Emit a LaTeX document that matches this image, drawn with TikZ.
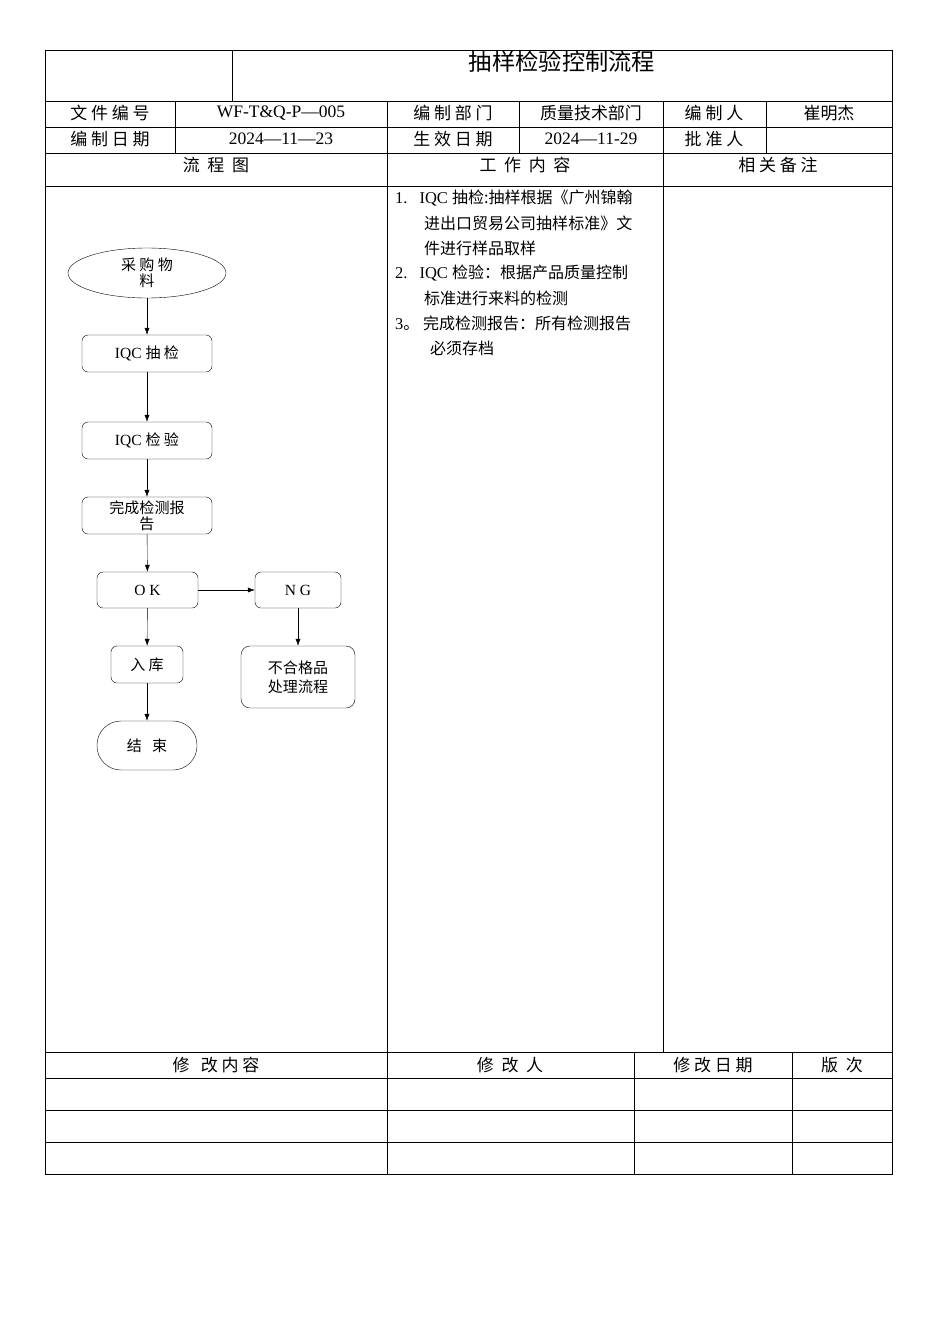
\documentclass[tikz,border=0pt]{standalone}
\usepackage{fontspec}
\setmainfont{Liberation Serif}
\newfontfamily\cjk{Noto Sans CJK SC}[Scale=0.97]
\newcommand{\C}[1]{{\cjk #1}}
\usetikzlibrary{arrows.meta,shapes.geometric}
\begin{document}
\begin{tikzpicture}[x=1pt,y=-1pt,
 every node/.style={font=\fontsize{17.5}{19}\selectfont},
 fbox/.style={draw,rounded corners=6pt,inner sep=0pt,align=center,font=\fontsize{15.5}{16}\selectfont},
 arr/.style={-{Latex[length=7pt,width=5pt]}},
 tl/.style={anchor=west,inner sep=0pt,font=\fontsize{16.5}{17}\selectfont}]
\useasboundingbox (0,0) rectangle (950,1344);
\draw (45,50) rectangle (892,1174);
\foreach \y in {101,127,153,186,1052,1078,1110,1142} \draw (45,\y)--(892,\y);
\draw (232,50)--(232,101);
\foreach \x in {175,387,519,663,766} \draw (\x,101)--(\x,153);
\draw (387,153)--(387,1174);
\draw (663,153)--(663,1052);
\draw (634,1052)--(634,1174);
\draw (792,1052)--(792,1174);
\node[font=\cjk\fontsize{24}{26}\selectfont] at (562,62) {抽样检验控制流程};
\node at (110,113) {\C{文 件 编 号}};
\node at (281,113) {WF-T\&Q-P—005};
\node at (453,113) {\C{编 制 部 门}};
\node at (591,113) {\C{质量技术部门}};
\node at (714,113) {\C{编 制 人}};
\node at (829,113) {\C{崔明杰}};
\node at (110,139) {\C{编 制 日 期}};
\node at (281,139) {2024—11—23};
\node at (453,139) {\C{生 效 日 期}};
\node at (591,139) {2024—11-29};
\node at (714,139) {\C{批 准 人}};
\node at (216,165) {\C{流\ \ 程\ \ 图}};
\node at (525,165) {\C{工\ \ 作\ \ 内\ \ 容}};
\node at (778,165) {\C{相 关 备 注}};
\node at (216,1065) {\C{修\ \ \ 改 内 容}};
\node at (510,1065) {\C{修\ \ 改\ \ 人}};
\node at (713,1065) {\C{修 改 日 期}};
\node at (842,1065) {\C{版\ \ 次}};
% flowchart
\node[draw,ellipse,minimum width=158pt,minimum height=50pt,inner sep=0pt,align=center,font=\cjk\fontsize{15.5}{16}\selectfont] (a) at (147,273) {采 购 物\\料};
\node[fbox,minimum width=130pt,minimum height=37pt] (b) at (147,353.5) {IQC \C{抽 检}};
\node[fbox,minimum width=130pt,minimum height=37pt] (c) at (147,440.5) {IQC \C{检 验}};
\node[fbox,minimum width=130pt,minimum height=37pt,font=\cjk\fontsize{15.5}{16}\selectfont] (d) at (147,515.5) {完成检测报\\告};
\node[fbox,minimum width=101pt,minimum height=36pt] (e) at (147.5,590) {O K};
\node[fbox,minimum width=86pt,minimum height=36pt] (f) at (298,590) {N G};
\node[fbox,minimum width=72pt,minimum height=37pt] (g) at (147,664.5) {\C{入 库}};
\node[fbox,minimum width=114pt,minimum height=62pt,rounded corners=9pt,font=\cjk\fontsize{15.5}{19}\selectfont] (h) at (298,677) {不合格品\\处理流程};
\node[fbox,minimum width=100pt,minimum height=49pt,rounded corners=24pt] (i) at (147,745.5) {\C{结 \ \ 束}};
\draw[arr] (a)--(b);
\draw[arr] (b)--(c);
\draw[arr] (c)--(d);
\draw[arr] (d)--(e);
\draw[arr] (e)--(f);
\draw[arr] (e)--(g);
\draw[arr] (f)--(h);
\draw[arr] (g)--(i);
% work content
\node[tl] (t1) at (395,198) {1.\hspace{12pt}IQC \C{抽检:抽样根据《广州锦翰}};
\node[tl] (t2) at (424,223) {\C{进出口贸易公司抽样标准》文}};
\node[tl] (t3) at (424,248) {\C{件进行样品取样}};
\node[tl] (t4) at (395,273) {2.\hspace{12pt}IQC \C{检验：根据产品质量控制}};
\node[tl] (t5) at (424,298) {\C{标准进行来料的检测}};
\node[tl] (t6) at (395,323) {3\C{。\ 完成检测报告：所有检测报告}};
\node[tl] (t7) at (430,348) {\C{必须存档}};
\end{tikzpicture}
\end{document}
